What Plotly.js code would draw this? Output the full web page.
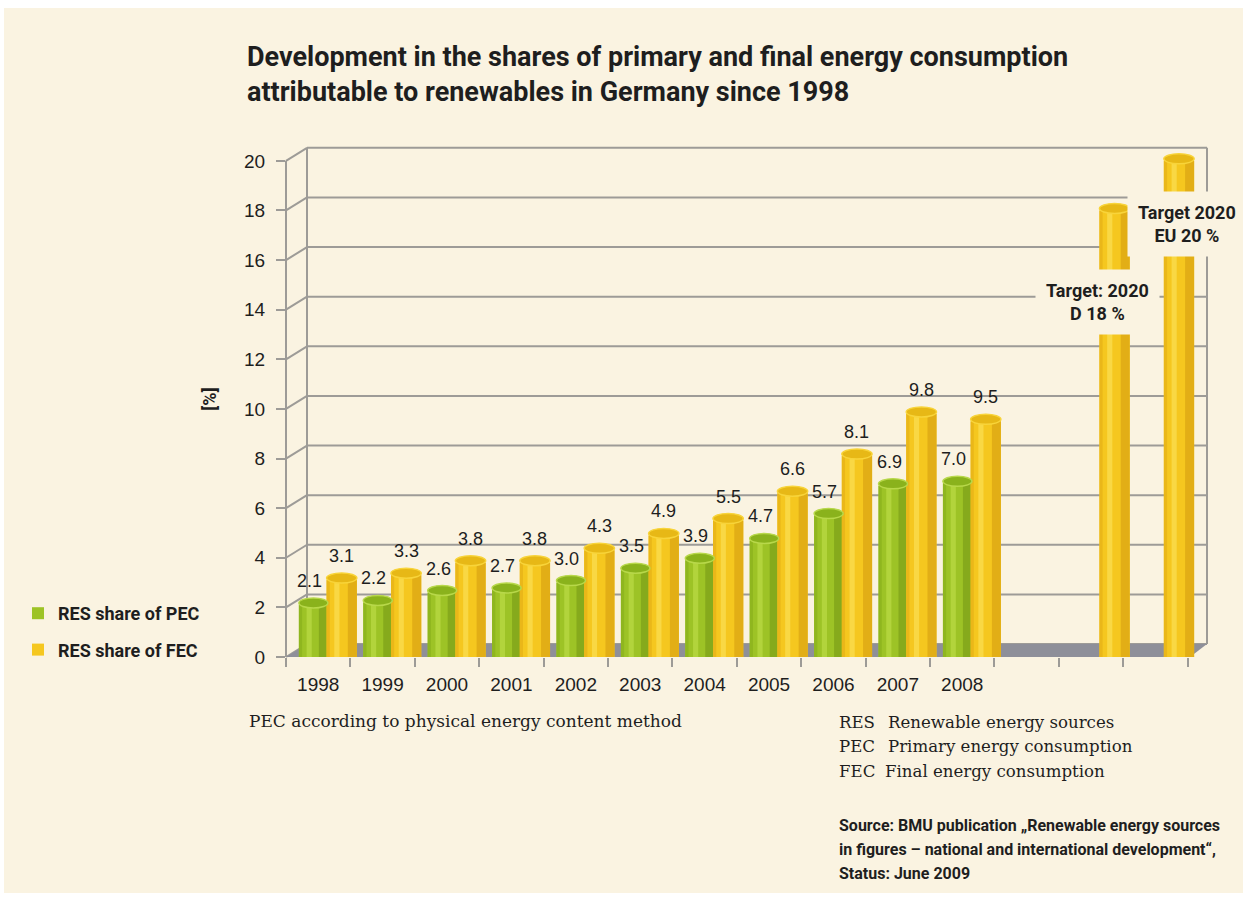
<!DOCTYPE html>
<html><head><meta charset="utf-8">
<script src="https://cdn.plot.ly/plotly-3.0.1.min.js"></script>
<style>
html,body{margin:0;padding:0;background:#ffffff;}
#chart{position:absolute;left:4px;top:8px;width:1239px;height:885px;}
</style></head><body><div id="chart"></div>
<script>
// ---------- data ----------
const years = ['1998','1999','2000','2001','2002','2003','2004','2005','2006','2007','2008'];
const pecShare = [2.1,2.2,2.6,2.7,3.0,3.5,3.9,4.7,5.7,6.9,7.0];
const fecShare = [3.1,3.3,3.8,3.8,4.3,4.9,5.5,6.6,8.1,9.8,9.5];
const gapCat = ['gap'];
const targetCats = ['Target D','Target EU'];
const targetValues = [18,20];
const targetLabels = ['<b>Target: 2020</b><br><b>D 18 %</b>','<b>Target 2020</b><br><b>EU 20 %</b>'];
const yTicks = [0,2,4,6,8,10,12,14,16,18,20];
const seriesNames = ['RES share of PEC','RES share of FEC'];

// ---------- style ----------
const BG = '#faf3e1';
const GRID = '#9d9b97';
const FLOOR = '#8e8f99';
const TXT = '#1e1e1e';
const narrow = 'Roboto, "Liberation Sans", sans-serif';
const sans = '"Liberation Sans", Arial, sans-serif';
const serif = '"DejaVu Serif", serif';
const green = {main:'#9dc326', edge:'#8fb61f', light:'#b2d43c', dark:'#86aa1c', top:'#8ab21c', rim:'#b8d84a'};
const yellow = {main:'#f5c71f', edge:'#eab719', light:'#f9d844', dark:'#e2ae16', top:'#e7b816', rim:'#f8d43a'};

// geometry of the drawing (pixels of the page)
const L = 286, R = 1207, T = 141, B = 657;       // plot area
const W = R - L, H = B - T;
const xRange = [-0.5, 13.8], yRange = [0, 20.8];
const depthX = 21, depthY = 13;                  // 3D depth of the back wall
const px2x = X => (X - L) / W;
const px2y = Y => (B - Y) / H;
const u2y = v => (v - yRange[0]) / (yRange[1] - yRange[0]);
const dxP = depthX / W, dyP = depthY / H;
const unitY = H / (yRange[1] - yRange[0]);

const cats = years.concat(gapCat, targetCats);
const tickText = years.concat(['', '', '']);

const pecOff = -0.30, pecW = 0.45;
const fecOff = 0.13, fecW = 0.47;

function cylinder(xs, ys, off, w, col, name) {
  const base = {type:'bar', x:xs, y:ys, hoverinfo:'skip', showlegend:false};
  return [
    Object.assign({}, base, {name:name, offset:off, width:w, marker:{color:col.main}, showlegend:true, legendgroup:name}),
    Object.assign({}, base, {offset:off, width:0.05, marker:{color:col.edge}}),
    Object.assign({}, base, {offset:off+0.12, width:0.08, marker:{color:col.light}}),
    Object.assign({}, base, {offset:off+w-0.14, width:0.14, marker:{color:col.dark}})
  ];
}

const fecX = years.concat(targetCats);
const fecY = fecShare.concat(targetValues);

const traces = [].concat(
  cylinder(years, pecShare, pecOff, pecW, green, seriesNames[0]),
  cylinder(fecX, fecY, fecOff, fecW, yellow, seriesNames[1])
);

// ---------- shapes: 3D frame ----------
const shapes = [];
yTicks.forEach(k => {
  const y = u2y(k);
  shapes.push({type:'line', xref:'paper', yref:'paper', x0:dxP, x1:1, y0:y+dyP, y1:y+dyP, layer:'below', line:{color:GRID, width:2}});
  shapes.push({type:'line', xref:'paper', yref:'paper', x0:0, x1:dxP, y0:y, y1:y+dyP, layer:'below', line:{color:GRID, width:2}});
});
const yTop = u2y(yTicks[yTicks.length-1]);
shapes.push({type:'line', xref:'paper', yref:'paper', x0:dxP, x1:dxP, y0:dyP, y1:yTop+dyP, layer:'below', line:{color:GRID, width:2}});
shapes.push({type:'line', xref:'paper', yref:'paper', x0:1, x1:1, y0:dyP, y1:yTop+dyP, layer:'below', line:{color:GRID, width:2}});
shapes.push({type:'line', xref:'paper', yref:'paper', x0:0, x1:0, y0:0, y1:yTop, layer:'below', line:{color:GRID, width:2}});
const fx = px2x(R - depthX + 4);
shapes.push({type:'path', xref:'paper', yref:'paper', layer:'below', fillcolor:FLOOR, line:{width:0},
  path:`M0,0 L${fx},0 L1,${dyP} L${dxP},${dyP} Z`});

// cylinder ends
const eh = 5 / unitY;
function ends(xs, ys, off, w, col) {
  xs.forEach((c, i) => {
    const idx = cats.indexOf(c);
    const v = ys[i];
    shapes.push({type:'circle', xref:'x', yref:'y', layer:'below', x0:idx+off, x1:idx+off+w, y0:-eh, y1:eh, fillcolor:col.main, line:{width:0}});
    shapes.push({type:'circle', xref:'x', yref:'y', layer:'above', x0:idx+off, x1:idx+off+w, y0:v-eh*0.6, y1:v+eh*1.4, fillcolor:col.top, line:{color:col.rim, width:1.5}});
  });
}
ends(years, pecShare, pecOff, pecW, green);
ends(fecX, fecY, fecOff, fecW, yellow);

// ---------- annotations ----------
const ann = [];
years.forEach((c, i) => {
  const idx = cats.indexOf(c);
  ann.push({xref:'x', yref:'y', x:idx+pecOff+pecW/2, y:pecShare[i], text:pecShare[i].toFixed(1), showarrow:false,
    xanchor:'center', yanchor:'middle', yshift:24, xshift:-4, font:{family:sans, size:18, color:TXT}});
  ann.push({xref:'x', yref:'y', x:idx+fecOff+fecW/2, y:fecShare[i], text:fecShare[i].toFixed(1), showarrow:false,
    xanchor:'center', yanchor:'middle', yshift:24, font:{family:sans, size:18, color:TXT}});
});
const targetPos = [[1097, 302], [1187, 224]];
targetLabels.forEach((t, i) => {
  ann.push({xref:'paper', yref:'paper', x:px2x(targetPos[i][0]), y:px2y(targetPos[i][1]), xanchor:'center', yanchor:'middle',
    text:t, showarrow:false, bgcolor:BG, borderpad:10, font:{family:narrow, size:18, color:TXT}});
});
function note(text, X, Y, font) {
  ann.push({xref:'paper', yref:'paper', x:px2x(X), y:px2y(Y), xanchor:'left', yanchor:'middle', text:text, showarrow:false, font:font, align:'left'});
}
const serifL = {family:serif, size:17, color:TXT};
const serifR = {family:serif, size:16.6, color:TXT};
note('PEC according to physical energy content method', 247, 721, serifL);
note('RES', 837, 722, serifR); note('Renewable energy sources', 886, 722, serifR);
note('PEC', 837, 746, serifR); note('Primary energy consumption', 886, 746, serifR);
note('FEC', 837, 771, serifR); note('Final energy consumption', 883, 771, serifR);
const srcFont = {family:narrow, size:16, color:TXT};
note('<b>Source: BMU publication „Renewable energy sources</b>', 837, 825, srcFont);
note('<b>in figures – national and international development“,</b>', 837, 849, srcFont);
note('<b>Status: June 2009</b>', 837, 873, srcFont);

const layout = {
  width:1239, height:885,
  paper_bgcolor:BG, plot_bgcolor:'rgba(0,0,0,0)',
  margin:{l:L-4, r:1239-(R-4), t:T-8, b:885-(B-8), autoexpand:false},
  barmode:'overlay',
  title:{text:'<b>Development in the shares of primary and final energy consumption</b><br><b>attributable to renewables in Germany since 1998</b>',
    xref:'container', yref:'container', x:(247-4)/1239, xanchor:'left', y:1-(66-8)/885, yanchor:'top',
    font:{family:narrow, size:27, color:TXT}},
  xaxis:{type:'category', categoryorder:'array', categoryarray:cats, tickmode:'array', tickvals:cats, ticktext:tickText,
    range:xRange, tickson:'boundaries', ticks:'outside', ticklen:9, tickwidth:2, tickcolor:GRID,
    showline:false, showgrid:false, zeroline:false, ticklabelstandoff:14,
    tickfont:{family:sans, size:19, color:TXT}},
  yaxis:{range:yRange, tickmode:'array', tickvals:yTicks, ticks:'outside', ticklen:9, tickwidth:2, tickcolor:GRID,
    showline:false, showgrid:false, zeroline:false, ticklabelstandoff:7,
    tickfont:{family:sans, size:19, color:TXT},
    title:{text:'<b>[%]</b>', font:{family:narrow, size:18, color:TXT}, standoff:22}},
  legend:{x:px2x(18), y:px2y(595), xanchor:'left', yanchor:'top', bgcolor:'rgba(0,0,0,0)',
    traceorder:'grouped', tracegroupgap:10, font:{family:narrow, size:18, color:TXT, weight:'bold'}},
  shapes:shapes, annotations:ann
};

Plotly.newPlot('chart', traces, layout, {staticPlot:true, displayModeBar:false});
</script></body></html>
